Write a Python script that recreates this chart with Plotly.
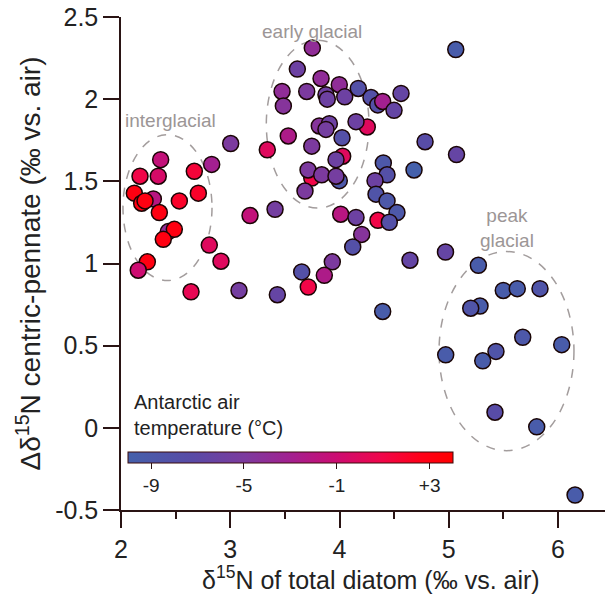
import plotly.graph_objects as go

# delta15N of total diatom (x), delta delta15N centric-pennate (y), Antarctic air temperature (T)
d15n_total = [
    2.296, 2.433, 3.746, 3.998, 4.352,
    2.363, 2.174, 2.341, 2.671, 2.830, 2.122, 2.189, 2.220, 2.534, 2.708,
    2.351, 2.488, 2.387, 2.808, 2.915, 2.241, 2.158, 2.641,
    3.751, 3.614, 3.831, 3.474, 3.700, 3.998, 3.876, 3.888, 4.048, 4.172,
    4.288, 4.350, 4.395, 4.563, 4.499, 5.064, 3.486, 4.254, 3.815, 3.907,
    3.876, 4.151, 3.531, 3.339, 3.746, 4.023, 4.029, 3.968, 4.783, 5.071,
    4.401, 4.435, 4.682, 3.712, 3.837, 3.968, 4.325, 3.684, 4.334, 4.435,
    4.526, 4.456, 4.011, 4.151, 4.203, 3.410, 3.181, 4.121, 4.645, 4.970,
    3.004, 3.080, 3.431, 3.654, 3.934, 3.861, 3.714, 4.395,
    5.271, 5.499, 5.627, 5.835, 5.286, 5.201, 5.677, 6.034, 4.972, 5.432,
    5.311, 5.423, 5.805, 6.156,
]
d15n_diff = [
    1.393, 1.194, 1.520, 1.504, 1.263,
    1.632, 1.531, 1.531, 1.561, 1.603, 1.428, 1.367, 1.381, 1.381, 1.428,
    1.310, 1.208, 1.147, 1.112, 1.014, 1.010, 0.959, 0.828,
    2.312, 2.183, 2.126, 2.047, 2.047, 2.088, 2.027, 2.000, 2.014, 2.065,
    2.010, 1.965, 1.986, 2.035, 1.932, 2.302, 1.959, 1.831, 1.837, 1.851,
    1.816, 1.863, 1.776, 1.692, 1.714, 1.765, 1.653, 1.632, 1.741, 1.663,
    1.612, 1.540, 1.569, 1.569, 1.540, 1.531, 1.504, 1.441, 1.422, 1.381,
    1.310, 1.251, 1.300, 1.280, 1.177, 1.330, 1.292, 1.101, 1.020, 1.070,
    1.730, 0.836, 0.810, 0.949, 1.010, 0.928, 0.857, 0.708,
    0.989, 0.836, 0.847, 0.847, 0.741, 0.728, 0.551, 0.506, 0.444, 0.465,
    0.408, 0.095, 0.006, -0.409,
]
air_temp = [
    -2.0, -4.0, 1.0, -9.0, 1.0,
    -1.5, 1.0, -0.5, 1.5, -3.0, 3.0, 3.0, 3.0, 2.0, 2.0,
    3.0, 3.0, 3.0, 0.0, 0.0, 3.0, -1.0, 0.5,
    -4.0, -6.0, -4.0, -4.0, -5.0, -4.0, -6.0, -6.0, -6.0, -8.0,
    -8.0, -8.0, -3.0, -6.5, -6.5, -9.5, -4.5, 0.0, -4.5, -6.0,
    -5.5, -6.0, -2.5, 0.0, -5.0, -8.0, 0.0, -6.0, -7.5, -6.5,
    -9.0, -8.0, -10.0, -5.0, -5.0, -5.5, -6.0, -5.0, -8.5, -9.0,
    -9.0, -8.0, -2.0, -6.0, -4.5, -5.5, -1.5, -8.0, -6.5, -6.5,
    -5.0, -5.5, -6.5, -8.0, -5.0, -2.5, 1.0, -9.5,
    -9.5, -9.5, -9.5, -8.5, -9.5, -8.5, -9.0, -9.5, -9.5, -8.5,
    -9.5, -7.5, -9.5, -9.5,
]

cbar_ticks = [-9, -5, -1, 3]
cbar_ticktext = ["-9", "-5", "-1", "+3"]

# ellipse extents (x0, x1, y0, y1) and labels
ellipses = {
    "interglacial": (2.018, 2.833, 0.896, 1.784),
    "early glacial": (3.33, 4.27, 1.337, 2.359),
    "peak glacial": (4.911, 6.146, -0.139, 1.073),
}
labels = [
    ("interglacial", 2.449, 1.869),
    ("early glacial", 3.748, 2.414),
    ("peak<br>glacial", 5.533, 1.217),
]

colorscale = [
    [0.0, "#4560ab"], [0.2, "#5a4aa6"], [0.36, "#7d3a9e"], [0.5, "#a32090"],
    [0.64, "#cc0c72"], [0.78, "#f0064a"], [0.9, "#ff0018"], [1.0, "#ff0000"],
]

FONT = "Liberation Sans, Arial, sans-serif"
AX = "#2a1414"
GRAY = "#9c9696"
TXT = "#222222"

fig = go.Figure()
fig.add_trace(go.Scatter(
    x=d15n_total, y=d15n_diff, mode="markers",
    marker=dict(
        size=16, color=air_temp, colorscale=colorscale, cmin=-10, cmax=4,
        line=dict(color="#1a0505", width=1.5),
        colorbar=dict(
            orientation="h", x=0.35, xanchor="center", y=0.1175, yanchor="top",
            len=325, lenmode="pixels", thickness=11, thicknessmode="pixels",
            outlinecolor="#3a0a0a", outlinewidth=1,
            tickvals=cbar_ticks, ticktext=cbar_ticktext,
            ticks="outside", ticklen=6, tickcolor=AX,
            tickfont=dict(family=FONT, size=19, color=TXT),
            xpad=0, ypad=0,
        ),
    ),
    showlegend=False,
))

shapes = []
for name, (x0, x1, y0, y1) in ellipses.items():
    shapes.append(dict(type="circle", xref="x", yref="y", x0=x0, x1=x1, y0=y0, y1=y1,
                       line=dict(color="#a39d9d", width=1.5, dash="dash"), layer="below"))

annotations = []
for txt, x, y in labels:
    annotations.append(dict(text=txt, x=x, y=y, xref="x", yref="y", showarrow=False,
                            font=dict(family=FONT, size=19, color=GRAY)))
annotations.append(dict(text="Antarctic air<br>temperature (°C)", x=0.022, y=0.14,
                        xref="paper", yref="paper", xanchor="left", yanchor="bottom",
                        align="left", showarrow=False,
                        font=dict(family=FONT, size=20, color=TXT)))
# x-axis title placed as annotation to match the reference's horizontal offset
annotations.append(dict(text="δ<sup>15</sup>N of total diatom (‰ vs. air)", x=0.517, y=-0.138,
                        xref="paper", yref="paper", xanchor="center", yanchor="middle",
                        showarrow=False, font=dict(family=FONT, size=25, color=TXT)))

fig.update_layout(
    width=605, height=596,
    margin=dict(l=121, r=0, t=17, b=86),
    plot_bgcolor="white", paper_bgcolor="white",
    shapes=shapes, annotations=annotations,
    font=dict(family=FONT, color=TXT),
    xaxis=dict(
        range=[2, 6.43], tickvals=[2, 3, 4, 5, 6], showgrid=False, zeroline=False,
        showline=True, linecolor=AX, linewidth=1.5,
        ticks="outside", ticklen=16, tickwidth=1.5, tickcolor=AX,
        minor=dict(tickvals=[2.5, 3.5, 4.5, 5.5], ticks="outside", ticklen=7,
                   tickwidth=1.5, tickcolor=AX),
        tickfont=dict(size=25),
    ),
    yaxis=dict(
        range=[-0.5, 2.5], tickvals=[-0.5, 0, 0.5, 1, 1.5, 2, 2.5],
        ticktext=["-0.5", "0", "0.5", "1", "1.5", "2", "2.5"],
        showgrid=False, zeroline=False,
        showline=True, linecolor=AX, linewidth=1.5,
        ticks="outside", ticklen=16, tickwidth=1.5, tickcolor=AX,
        tickfont=dict(size=25),
        title=dict(text="Δδ<sup>15</sup>N centric-pennate (‰ vs. air)", font=dict(size=28), standoff=6),
    ),
)

fig.write_html("out.html")
